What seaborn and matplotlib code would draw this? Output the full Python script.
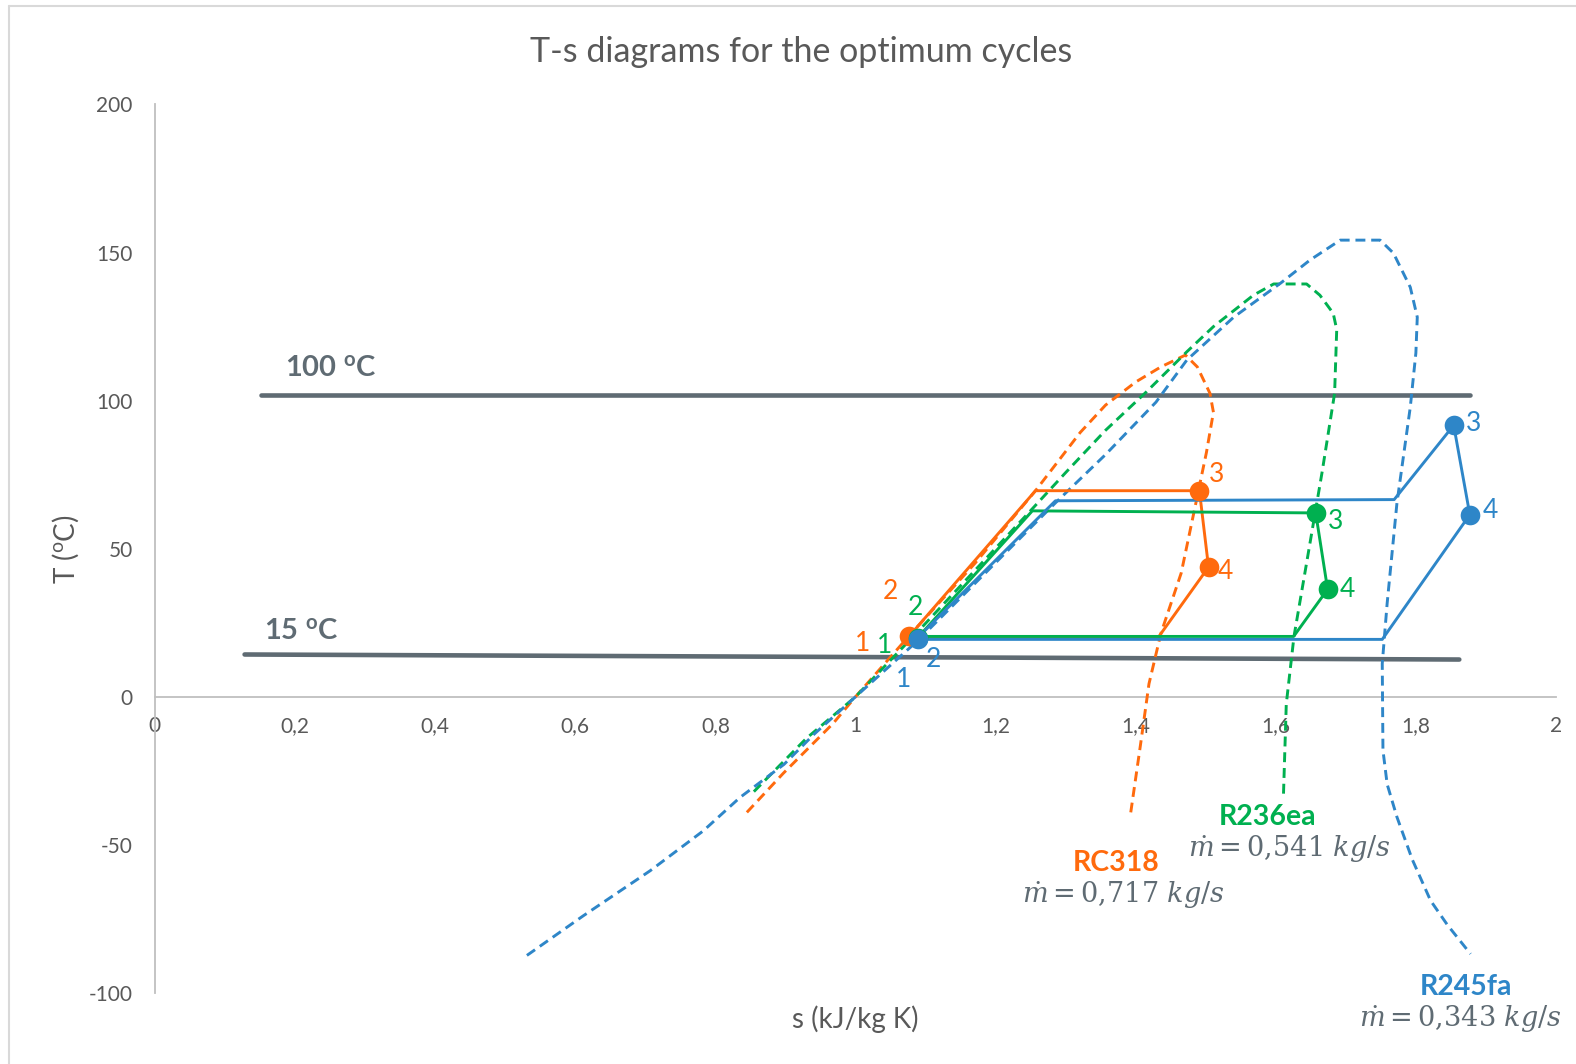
import matplotlib
matplotlib.use("Agg")
import matplotlib.pyplot as plt
import seaborn as sns
from matplotlib.lines import Line2D

# ---------------------------------------------------------------- data
# Saturation domes (entropy kJ/kg K, temperature degC)
rc318_dome_s = [0.845, 0.897, 0.968, 1.000, 1.077, 1.171, 1.257, 1.321, 1.357, 1.400,
                1.436, 1.471, 1.488, 1.506, 1.511, 1.501, 1.486, 1.465, 1.436, 1.419,
                1.407, 1.393]
rc318_dome_T = [-39.0, -25.8, -9.0, 0.0, 20.7, 45.2, 69.6, 89.3, 98.5, 106.3,
                111.4, 115.4, 111.4, 102.5, 96.1, 82.5, 65.5, 41.8, 21.4, 4.4,
                -16.0, -39.0]

r236ea_dome_s = [0.855, 0.930, 1.000, 1.089, 1.2525, 1.300, 1.357, 1.415, 1.473, 1.511,
                 1.568, 1.597, 1.644, 1.663, 1.682, 1.687, 1.684, 1.666, 1.644, 1.626,
                 1.615, 1.611]
r236ea_dome_T = [-32.0, -14.0, 0.0, 22.0, 63.5, 75.7, 90.0, 102.9, 116.5, 125.0,
                 135.6, 139.4, 139.4, 135.6, 129.5, 124.0, 102.5, 75.7, 45.2, 20.4,
                 -2.4, -33.0]

r245fa_dome_s = [0.531, 0.611, 0.707, 0.783, 0.835, 0.898, 0.941, 1.000, 1.089, 1.2855,
                 1.357, 1.429, 1.473, 1.540, 1.607, 1.649, 1.692, 1.749, 1.768, 1.792,
                 1.802, 1.800, 1.792, 1.773, 1.759, 1.752, 1.753, 1.759, 1.773, 1.795,
                 1.821, 1.845, 1.878]
r245fa_dome_T = [-87.3, -74.0, -58.7, -45.2, -34.0, -22.8, -12.6, 0.0, 19.0, 65.5,
                 81.8, 99.5, 113.7, 128.2, 139.7, 147.5, 154.2, 154.2, 149.8, 138.3,
                 128.2, 116.1, 97.8, 65.5, 31.6, 11.2, -18.0, -29.5, -40.6, -55.0,
                 -68.8, -77.0, -86.8]

# Cycle paths: 2 -> sat. liquid -> sat. vapour -> 3 -> 4 -> sat. vapour -> 1
rc318_cycle_s = [1.0775, 1.257, 1.491, 1.504, 1.432, 1.0775]
rc318_cycle_T = [20.7, 69.6, 69.6, 43.8, 20.0, 20.0]
r236ea_cycle_s = [1.089, 1.2525, 1.657, 1.674, 1.6255, 1.089]
r236ea_cycle_T = [20.0, 62.8, 62.1, 36.3, 20.4, 20.4]
r245fa_cycle_s = [1.089, 1.2855, 1.769, 1.854, 1.877, 1.752, 1.089]
r245fa_cycle_T = [20.0, 66.2, 66.6, 91.7, 61.5, 19.4, 19.4]

# Marked states 2, 3, 4
rc318_state_s = [1.0767, 1.491, 1.504]
rc318_state_T = [20.7, 69.6, 43.8]
r236ea_state_s = [1.089, 1.657, 1.674]
r236ea_state_T = [20.0, 62.1, 36.3]
r245fa_state_s = [1.089, 1.854, 1.877]
r245fa_state_T = [19.7, 91.7, 61.5]

# Numbered states 1..4
state_numbers = ["1", "2", "3", "4"]
rc318_num_s = [1.0775, 1.0775, 1.491, 1.504]
rc318_num_T = [20.0, 20.7, 69.6, 43.8]
r236ea_num_s = [1.089, 1.089, 1.657, 1.674]
r236ea_num_T = [20.4, 20.0, 62.1, 36.3]
r245fa_num_s = [1.089, 1.089, 1.854, 1.877]
r245fa_num_T = [19.4, 19.7, 91.7, 61.5]

# Heat source / sink temperature lines
source_s = [0.152, 1.877]
source_T = [101.9, 101.9]
sink_s = [0.128, 1.862]
sink_T = [14.3, 12.6]

fluids = ["RC318", "R236ea", "R245fa"]
mass_flows = ["0{,}717", "0{,}541", "0{,}343"]

x_ticks = [0, 0.2, 0.4, 0.6, 0.8, 1.0, 1.2, 1.4, 1.6, 1.8, 2.0]
x_tick_labels = ["0", "0,2", "0,4", "0,6", "0,8", "1", "1,2", "1,4", "1,6", "1,8", "2"]
y_ticks = [-100, -50, 0, 50, 100, 150, 200]
y_tick_labels = ["-100", "-50", "0", "50", "100", "150", "200"]

# ---------------------------------------------------------------- style
sns.set_style("white")
plt.rcParams["font.family"] = ["Lato", "DejaVu Sans"]
plt.rcParams["mathtext.fontset"] = "custom"
plt.rcParams["mathtext.rm"] = "Lato"
plt.rcParams["mathtext.it"] = "Lato:italic"
plt.rcParams["mathtext.bf"] = "Lato:bold"

ORANGE = "#FF6A0D"
GREEN = "#00B050"
BLUE = "#2E86C8"
SLATE = "#5F6B73"
TEXT = "#595959"
AXIS = "#BFBFBF"

LW = 2.1
DASH = (0, (3.4, 2.0))

fig = plt.figure(figsize=(15.76, 10.64), dpi=100)
# chart-area frame: only the top and left edges are shown
fig.add_artist(Line2D([0.0055, 1.0], [0.9945, 0.9945], transform=fig.transFigure,
                      color="#D9D9D9", linewidth=1.5))
fig.add_artist(Line2D([0.0055, 0.0055], [0.0, 0.9945], transform=fig.transFigure,
                      color="#D9D9D9", linewidth=1.5))
ax = fig.add_axes([0.0983, 0.0667, 0.889, 0.8351])

# source / sink lines
for s_vals, t_vals in [(source_s, source_T), (sink_s, sink_T)]:
    sns.lineplot(x=s_vals, y=t_vals, ax=ax, color=SLATE, linewidth=3.3,
                 sort=False, estimator=None, zorder=2)

series = [
    (rc318_dome_s, rc318_dome_T, rc318_cycle_s, rc318_cycle_T, rc318_state_s,
     rc318_state_T, rc318_num_s, rc318_num_T, ORANGE,
     [(-34, -4), (-14, 32), (12.5, 11.5), (12.5, -3)]),
    (r236ea_dome_s, r236ea_dome_T, r236ea_cycle_s, r236ea_cycle_T, r236ea_state_s,
     r236ea_state_T, r236ea_num_s, r236ea_num_T, GREEN,
     [(-24, -6.5), (-1.5, 22), (14, -6), (14.5, 0)]),
    (r245fa_dome_s, r245fa_dome_T, r245fa_cycle_s, r245fa_cycle_T, r245fa_state_s,
     r245fa_state_T, r245fa_num_s, r245fa_num_T, BLUE,
     [(-10, -29), (11.5, -15), (14.5, 1.5), (14.5, 3)]),
]

for i, (ds, dT, cs, cT, ps, pT, ns, nT, col, offs) in enumerate(series):
    sns.lineplot(x=ds, y=dT, ax=ax, color=col, linewidth=LW, linestyle=DASH,
                 sort=False, estimator=None, zorder=3 + i)
for i, (ds, dT, cs, cT, ps, pT, ns, nT, col, offs) in enumerate(series):
    sns.lineplot(x=cs, y=cT, ax=ax, color=col, linewidth=LW,
                 sort=False, estimator=None, zorder=6 + i)
    sns.scatterplot(x=ps, y=pT, ax=ax, color=col, s=200, linewidth=0, zorder=9 + i)
    for lbl, sx, ty, off in zip(state_numbers, ns, nT, offs):
        ax.annotate(lbl, (sx, ty), xytext=off, textcoords="offset points",
                    ha="center", va="center", color=col, fontsize=19, zorder=12)

# axes
ax.set_xlim(0, 2)
ax.set_ylim(-100, 200)
ax.set_xticks(x_ticks)
ax.set_xticklabels(x_tick_labels)
ax.set_yticks(y_ticks)
ax.set_yticklabels(y_tick_labels)
ax.tick_params(axis="both", length=0, labelsize=15, labelcolor=TEXT)
ax.tick_params(axis="x", pad=14)
ax.tick_params(axis="y", pad=16)
for side in ["top", "right"]:
    ax.spines[side].set_visible(False)
ax.spines["bottom"].set_position(("data", 0))
ax.spines["bottom"].set_color(AXIS)
ax.spines["left"].set_color(AXIS)
ax.spines["bottom"].set_linewidth(1.3)
ax.spines["left"].set_linewidth(1.3)
ax.grid(False)

ax.set_xlabel("s (kJ/kg K)", fontsize=20, color=TEXT)
ax.xaxis.set_label_coords(0.5, -0.0294)
ax.xaxis.label.set_va("center")
ax.set_ylabel(r"T ($^{\mathrm{o}}$C)", fontsize=20, color=TEXT)
ax.yaxis.set_label_coords(-0.0638, 0.499)
ax.yaxis.label.set_va("center")

ax.set_title("T-s diagrams for the optimum cycles", fontsize=24.5, color=TEXT,
             x=0.4613, y=1.050, va="center")

# temperature line labels
ax.text(0.185, 111.0, r"100 $^{\mathbf{o}}$C", fontsize=21, fontweight="bold",
        color=SLATE, ha="left", va="center")
ax.text(0.155, 22.1, r"15 $^{\mathbf{o}}$C", fontsize=21, fontweight="bold",
        color=SLATE, ha="left", va="center")

# fluid names and mass flow rates
name_pos = [(1.372, -56.0), (1.588, -40.7), (1.871, -98.1)]
flow_pos = [(1.382, -66.9), (1.620, -51.6), (1.864, -109.0)]
for name, flow, npos, fpos, col in zip(fluids, mass_flows, name_pos, flow_pos,
                                       [ORANGE, GREEN, BLUE]):
    ax.text(*npos, name, fontsize=20.5, fontweight="bold", color=col,
            ha="center", va="center", clip_on=False)
    ax.text(*fpos, r"$\dot{m} = " + flow + r"\ kg/s$", fontsize=19.5, color=SLATE,
            ha="center", va="center", math_fontfamily="dejavuserif", clip_on=False)

fig.savefig("out.png", dpi=100)
